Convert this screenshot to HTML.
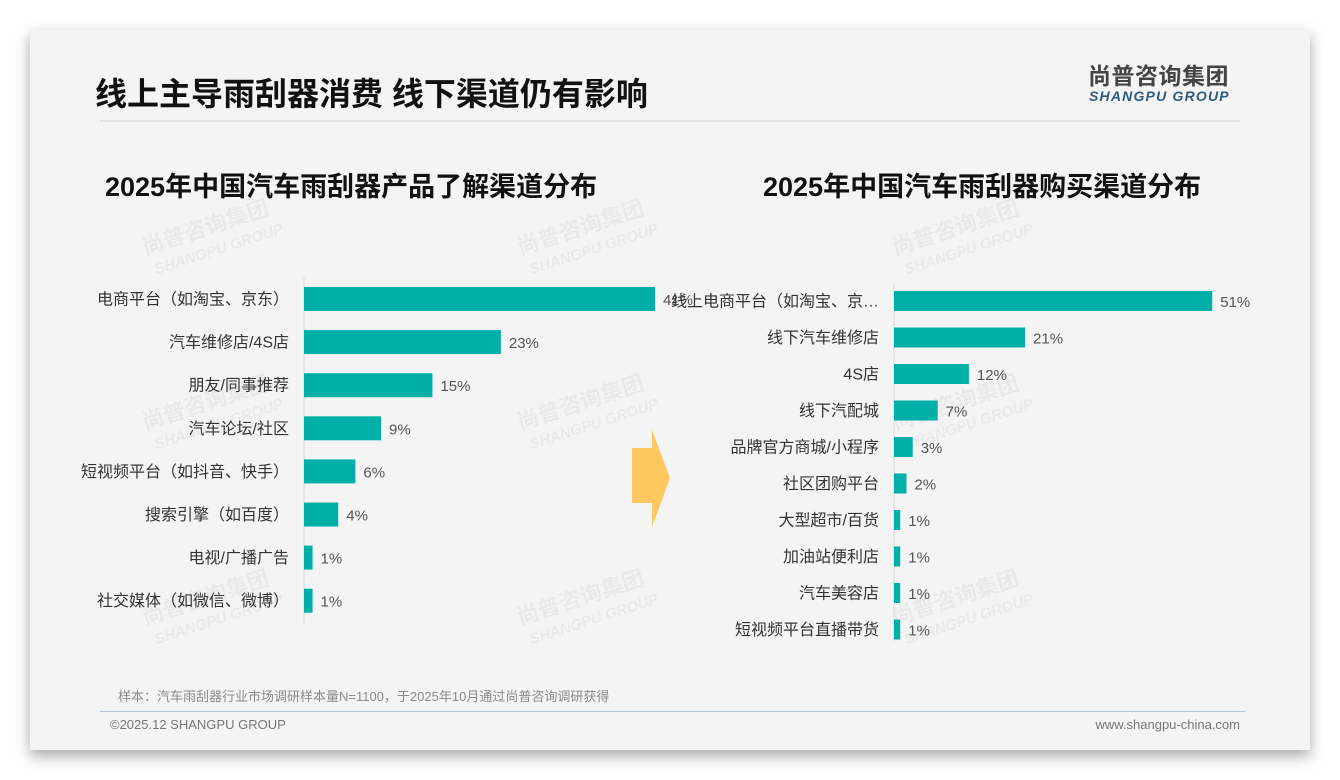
<!DOCTYPE html>
<html><head><meta charset="utf-8"><style>
html,body{margin:0;padding:0;background:#fff;}
body{width:1340px;height:780px;position:relative;overflow:hidden;font-family:"Liberation Sans","Noto Sans CJK SC",sans-serif;}
#slide{position:absolute;left:30px;top:30px;width:1280px;height:720px;background:#f4f4f4;box-shadow:0 6px 14px rgba(0,0,0,0.35);}
.abs{position:absolute;white-space:nowrap;line-height:1;}
</style></head><body>
<div id="slide"></div>
<div class="abs" style="left:95px;top:78px;font-size:32px;font-weight:bold;color:#111;">线上主导雨刮器消费 线下渠道仍有影响</div>
<div class="abs" style="left:1088px;top:65px;font-size:23px;font-weight:bold;color:#444;letter-spacing:0.5px;">尚普咨询集团</div>
<div class="abs" style="left:1089px;top:89px;font-size:14px;font-weight:bold;font-style:italic;color:#2f5a80;letter-spacing:1.2px;">SHANGPU GROUP</div>
<div class="abs" style="left:100px;top:120px;width:1140px;height:2px;background:#e2e2e2;"></div>
<div class="abs" style="left:105px;top:174px;font-size:27px;font-weight:bold;color:#111;">2025年中国汽车雨刮器产品了解渠道分布</div>
<div class="abs" style="left:763px;top:174px;font-size:27px;font-weight:bold;color:#111;">2025年中国汽车雨刮器购买渠道分布</div>
<svg class="abs" style="left:0;top:0" width="1340" height="780">
<g id="wm" font-family="Liberation Sans, Noto Sans CJK SC, sans-serif" fill="#000" opacity="0.045" font-weight="bold"></g>
<g id="left"></g><g id="right"></g>
<polygon points="632,448 652,448 652,430 670,478 652,527 652,503 632,503" fill="#fdc860"/>
</svg>
<div class="abs" style="left:118px;top:690px;font-size:13px;color:#8a8a8a;">样本：汽车雨刮器行业市场调研样本量N=1100，于2025年10月通过尚普咨询调研获得</div>
<div class="abs" style="left:100px;top:711px;width:1145px;height:1px;background:#b9c8d6;"></div>
<div class="abs" style="left:110px;top:718px;font-size:13px;color:#777;">©2025.12 SHANGPU GROUP</div>
<div class="abs" style="right:100px;top:718px;font-size:13px;color:#777;">www.shangpu-china.com</div>
<script>
const leftCats=["电商平台（如淘宝、京东）","汽车维修店/4S店","朋友/同事推荐","汽车论坛/社区","短视频平台（如抖音、快手）","搜索引擎（如百度）","电视/广播广告","社交媒体（如微信、微博）"];
const leftVals=[41,23,15,9,6,4,1,1];
const rightCats=["线上电商平台（如淘宝、京…","线下汽车维修店","4S店","线下汽配城","品牌官方商城/小程序","社区团购平台","大型超市/百货","加油站便利店","汽车美容店","短视频平台直播带货"];
const rightVals=[51,21,12,7,3,2,1,1,1,1];
const NS="http://www.w3.org/2000/svg";
function mk(t,a,p){const e=document.createElementNS(NS,t);for(const k in a)e.setAttribute(k,a[k]);p.appendChild(e);return e;}
function draw(g,cats,vals,x0,pxPer,y0,step,bh,axTop,axBot,prefix){
  const xs=v=>x0+v*pxPer, ys=i=>y0+i*step;
  const ax=mk('line',{x1:x0,x2:x0,y1:axTop,y2:axBot,stroke:'#d9d9d9','stroke-width':1},g);
  
  
  cats.forEach((c,i)=>{
    const r=mk('rect',{x:x0,y:ys(i)-bh/2,width:xs(vals[i])-x0,height:bh,fill:'#00b0a8'},g);
    
    
    const l=mk('text',{x:x0-15,y:ys(i)+5.5,'text-anchor':'end','font-size':16,fill:'#333','font-family':'Liberation Sans, Noto Sans CJK SC, sans-serif'},g);
    l.textContent=c;
    
    
    const v=mk('text',{x:xs(vals[i])+8,y:ys(i)+6,'font-size':15,fill:'#555','font-family':'Liberation Sans, Noto Sans CJK SC, sans-serif'},g);
    v.textContent=vals[i]+'%';
    
    
  });
}
draw(document.getElementById('left'),leftCats,leftVals,304,8.56,299,43.1,24,278,624,'left');
draw(document.getElementById('right'),rightCats,rightVals,894,6.24,301,36.5,20,283,641,'right');
const wm=document.getElementById('wm');
[[145,255],[520,255],[895,255],[145,430],[520,430],[895,430],[145,625],[520,625],[895,625]].forEach(p=>{
  const t=mk('text',{x:p[0],y:p[1],'font-size':22,transform:'rotate(-18 '+p[0]+' '+p[1]+')'},wm);t.textContent='尚普咨询集团';
  const s=mk('text',{x:p[0]+5,y:p[1]+22,'font-size':15,'font-style':'italic',transform:'rotate(-18 '+p[0]+' '+p[1]+')'},wm);s.textContent='SHANGPU GROUP';
});
</script>
</body></html>
